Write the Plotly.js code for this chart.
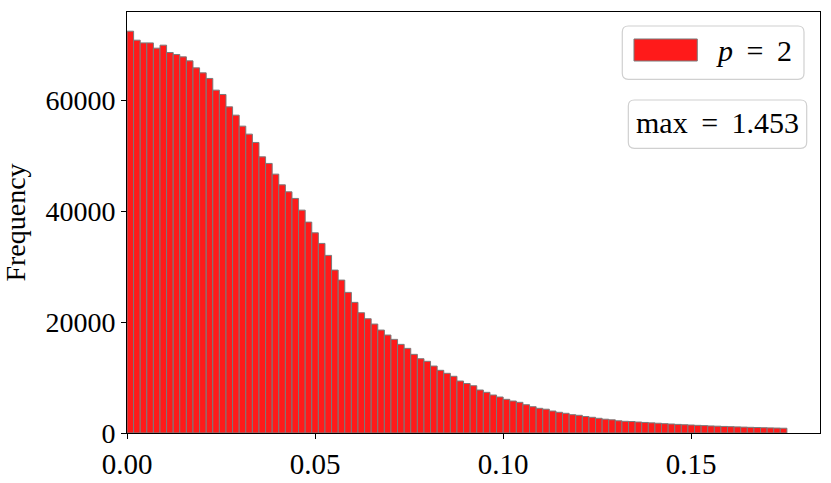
<!DOCTYPE html>
<html>
<head>
<meta charset="utf-8">
<script src="https://cdn.plot.ly/plotly-3.0.1.min.js"></script>
<style>
  body { margin: 0; background: #fff; }
  #histPlot { width: 831px; height: 483px; }
</style>
</head>
<body>
<div id="histPlot"></div>
<script>
// histogram counts, 100 bins starting at 0
var binStart = 0;
var binWidth = 0.001755;
var counts = [
  72440, 70820, 70330, 70330, 69380, 69920, 68600, 68240, 67810, 67090,
  65830, 64930, 63920, 61810, 61030, 58800, 57300, 55320, 53880, 52380,
  49790, 48600, 46670, 44740, 43480, 42290, 40180, 38020, 36090, 34180,
  32020, 29370, 27570, 25350, 23550, 21680, 20600, 19640, 18560, 17660,
  16880, 15980, 15260, 14180, 13390, 12920, 12070, 11300, 10760, 10220,
  9370, 8920, 8520, 7750, 7330, 6850, 6490, 6070, 5770, 5530,
  5100, 4740, 4450, 4290, 3960, 3730, 3550, 3300, 3190, 2970,
  2830, 2650, 2490, 2380, 2200, 2110, 2070, 1980, 1900, 1830,
  1760, 1680, 1620, 1550, 1490, 1440, 1380, 1330, 1270, 1230,
  1180, 1140, 1100, 1060, 1020, 990, 950, 920, 890, 860
];
var xTicks = [0, 0.05, 0.10, 0.15];
var yTicks = [0, 20000, 40000, 60000];
var legendLabel = "<i>p</i> \u2009= \u20092";
var maxLabel = "max \u2009= \u20091.453";

// bin centres from the bin edges
var centers = counts.map(function (c, i) { return binStart + (i + 0.5) * binWidth; });

var trace = {
    x: centers,
    y: counts,
    width: binWidth,
    type: "bar",
    marker: {color: "#ff1a1a", line: {color: "#7a7a7a", width: 1}},
    showlegend: false,
    hoverinfo: "x+y"
};

// rounded box in paper coords (radius given in pixels)
var plotW = 693, plotH = 421;
function roundBox(x0, y0, x1, y1, r) {
    var rx = r / plotW, ry = r / plotH;
    return "M" + (x0 + rx) + "," + y1 +
        " L" + (x1 - rx) + "," + y1 + " Q" + x1 + "," + y1 + " " + x1 + "," + (y1 - ry) +
        " L" + x1 + "," + (y0 + ry) + " Q" + x1 + "," + y0 + " " + (x1 - rx) + "," + y0 +
        " L" + (x0 + rx) + "," + y0 + " Q" + x0 + "," + y0 + " " + x0 + "," + (y0 + ry) +
        " L" + x0 + "," + (y1 - ry) + " Q" + x0 + "," + y1 + " " + (x0 + rx) + "," + y1 + " Z";
}

var serif = "Liberation Serif, DejaVu Serif, serif";

var layout = {
    width: 831,
    height: 483,
    margin: {l: 127, r: 11, t: 12, b: 50},
    paper_bgcolor: "#fff",
    plot_bgcolor: "#fff",
    bargap: 0,
    font: {family: serif, size: 27, color: "#000"},
    xaxis: {
        range: [0, 0.1843],
        tickvals: xTicks,
        tickformat: ".2f",
        ticks: "outside", ticklen: 5, tickcolor: "#000",
        ticklabelstandoff: 0,
        showline: true, linecolor: "#000", linewidth: 1, mirror: true,
        showgrid: false, zeroline: false,
        tickfont: {size: 29}
    },
    yaxis: {
        range: [0, 75900],
        tickvals: yTicks,
        tickformat: "d",
        ticks: "outside", ticklen: 5, tickcolor: "#000",
        showline: true, linecolor: "#000", linewidth: 1, mirror: true,
        showgrid: false, zeroline: false,
        tickfont: {size: 28},
        title: {text: "Frequency", font: {size: 28}, standoff: 12}
    },
    shapes: [
        {type: "path", xref: "paper", yref: "paper",
         path: roundBox(0.7147, 0.8401, 0.9769, 0.9667, 6),
         fillcolor: "#fff", line: {color: "#d0d0d0", width: 1.2}},
        {type: "rect", xref: "paper", yref: "paper",
         x0: 0.7316, x1: 0.8229, y0: 0.8836, y1: 0.9359,
         fillcolor: "#ff1a1a", line: {color: "#7a7a7a", width: 1}},
        {type: "path", xref: "paper", yref: "paper",
         path: roundBox(0.7234, 0.6762, 0.9808, 0.7910, 6),
         fillcolor: "#fff", line: {color: "#d0d0d0", width: 1.2}}
    ],
    annotations: [
        {xref: "paper", yref: "paper", x: 0.905, y: 0.9097, text: legendLabel,
         showarrow: false, xanchor: "center", yanchor: "middle",
         font: {family: serif, size: 30}},
        {xref: "paper", yref: "paper", x: 0.852, y: 0.738, text: maxLabel,
         showarrow: false, xanchor: "center", yanchor: "middle",
         font: {family: serif, size: 30}}
    ]
};

Plotly.newPlot("histPlot", [trace], layout, {displayModeBar: false, staticPlot: true});
</script>
</body>
</html>
